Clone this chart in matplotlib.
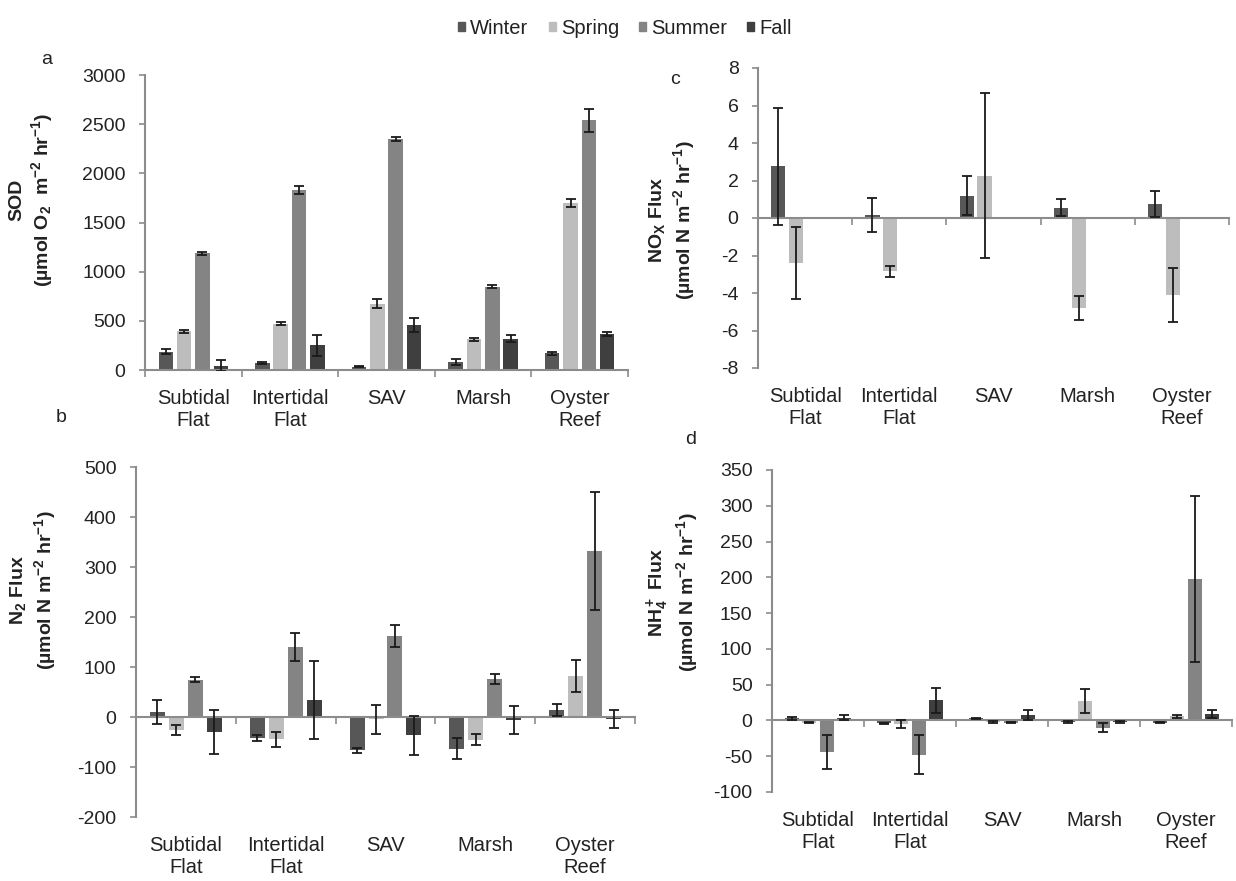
import numpy as np
import matplotlib
matplotlib.use('Agg')
import matplotlib.pyplot as plt
from matplotlib.patches import Patch
from matplotlib.transforms import blended_transform_factory

plt.rcParams['font.family'] = ['Liberation Sans', 'DejaVu Sans']
plt.rcParams['mathtext.fontset'] = 'custom'
plt.rcParams['mathtext.rm'] = 'Liberation Sans:bold'
plt.rcParams['mathtext.it'] = 'Liberation Sans:bold'
plt.rcParams['mathtext.bf'] = 'Liberation Sans:bold'

habitats = ['Subtidal\nFlat', 'Intertidal\nFlat', 'SAV', 'Marsh', 'Oyster\nReef']
seasons = ['Winter', 'Spring', 'Summer', 'Fall']
season_colors = ['#575757', '#bdbdbd', '#848484', '#3f3f3f']

# rows: Winter, Spring, Summer, Fall; columns: habitats
sod_mean = [[188, 68, 34, 85, 171],
            [393, 471, 676, 314, 1701],
            [1189, 1828, 2350, 847, 2538],
            [45, 250, 461, 320, 365]]
sod_err = [[30, 10, 5, 30, 15],
           [12, 15, 45, 15, 40],
           [15, 40, 20, 15, 120],
           [60, 110, 70, 35, 20]]

n2_mean = [[11, -42, -66, -63, 15],
           [-25, -44, -4, -45, 82],
           [75, 140, 162, 77, 332],
           [-30, 35, -36, -5, -4]]
n2_err = [[24, 6, 5, 21, 12],
          [10, 15, 29, 11, 32],
          [5, 28, 22, 10, 118],
          [44, 78, 39, 28, 18]]

# NOx was only measured in winter and spring
nox_mean = [[2.75, 0.15, 1.2, 0.55, 0.75],
            [-2.4, -2.85, 2.25, -4.8, -4.1],
            [np.nan] * 5,
            [np.nan] * 5]
nox_err = [[3.1, 0.9, 1.05, 0.45, 0.7],
           [1.9, 0.3, 4.4, 0.65, 1.45],
           [np.nan] * 5,
           [np.nan] * 5]

nh4_mean = [[3, -4, 3, -2, -3],
            [-3, -5, -2, 27, 6],
            [-44, -48, -3, -10, 197],
            [4, 28, 8, -2, 9]]
nh4_err = [[2, 1, 1, 1, 1],
           [1, 5, 1, 17, 2],
           [24, 27, 1, 6, 116],
           [4, 18, 7, 1, 6]]

W, H = 1236, 881
fig = plt.figure(figsize=(W / 100, H / 100), dpi=100)
axis_gray = '#8c8c8c'
text_color = '#222222'


def px_rect(left, top, right, bottom):
    return [left / W, 1 - bottom / H, (right - left) / W, (bottom - top) / H]


def panel(rect, means, errs, ylo, yhi, step, ylabel, ylabel_xy, letter, letter_xy):
    ax = fig.add_axes(rect)
    x = np.arange(len(habitats))
    pitch = 0.19
    for k in range(len(seasons)):
        m = np.array(means[k], dtype=float)
        e = np.array(errs[k], dtype=float)
        ok = ~np.isnan(m)
        pos = x + (k - 1.5) * pitch
        ax.bar(pos[ok], m[ok], width=0.15, color=season_colors[k], zorder=2)
        ax.errorbar(pos[ok], m[ok], yerr=e[ok], fmt='none', ecolor='#1a1a1a',
                    elinewidth=1.3, capsize=3.5, capthick=1.3, zorder=3)

    ticks = np.arange(ylo, yhi + step / 2, step)
    ax.set_xlim(-0.5, len(habitats) - 0.5)
    ax.set_ylim(ylo, yhi)
    ax.set_yticks(ticks)
    ax.set_yticklabels([f'{v:g}' for v in ticks])
    ax.set_xticks(np.arange(-0.5, len(habitats), 1))
    ax.set_xticklabels([])

    for s in ['top', 'right']:
        ax.spines[s].set_visible(False)
    ax.spines['bottom'].set_position(('data', 0))
    for s in ['left', 'bottom']:
        ax.spines[s].set_color(axis_gray)
        ax.spines[s].set_linewidth(1.5)
    ax.tick_params(axis='y', direction='out', length=4, width=1.2,
                   color=axis_gray, labelsize=14, pad=10, labelcolor=text_color)
    ax.tick_params(axis='x', direction='out', length=5, width=1.2, color=axis_gray)
    ax.set_facecolor('none')

    trans = blended_transform_factory(ax.transData, ax.transAxes)
    for i, h in enumerate(habitats):
        ax.annotate(h, xy=(i, 0), xycoords=trans, xytext=(0, -14),
                    textcoords='offset points', ha='center', va='top',
                    fontsize=14.5, linespacing=1.15, color=text_color)

    fig.text(ylabel_xy[0] / W, 1 - ylabel_xy[1] / H, ylabel, rotation=90,
             ha='center', va='center', multialignment='center',
             fontsize=14, fontweight='bold', linespacing=1.2, color=text_color)
    fig.text(letter_xy[0] / W, 1 - letter_xy[1] / H, letter,
             ha='center', va='center', fontsize=14, color=text_color)
    return ax


unit = '(µmol N m$^{-2}$ hr$^{-1}$)'

panel(px_rect(145, 75, 628, 370), sod_mean, sod_err, 0, 3000, 500,
      'SOD\n(µmol O$_2$  m$^{-2}$ hr$^{-1}$)', (32, 200), 'a', (47, 59))
panel(px_rect(136, 467, 635, 817), n2_mean, n2_err, -200, 500, 100,
      'N$_2$ Flux\n' + unit, (33, 590), 'b', (61, 417))
panel(px_rect(758, 68, 1229, 368), nox_mean, nox_err, -8, 8, 2,
      'NO$_X$ Flux\n' + unit, (672, 220), 'c', (675, 80))
panel(px_rect(772, 470, 1232, 792), nh4_mean, nh4_err, -100, 350, 50,
      'NH$_4^+$ Flux\n' + unit, (672, 592), 'd', (691, 440))

handles = [Patch(color=c) for c in season_colors]
fig.legend(handles, seasons, loc='center', bbox_to_anchor=(625 / W, 1 - 28 / H),
           ncol=4, frameon=False, handlelength=0.35, handleheight=0.35,
           handletextpad=0.25, columnspacing=1.0, fontsize=14.5,
           labelcolor=text_color)

fig.savefig('out.png', dpi=100)
